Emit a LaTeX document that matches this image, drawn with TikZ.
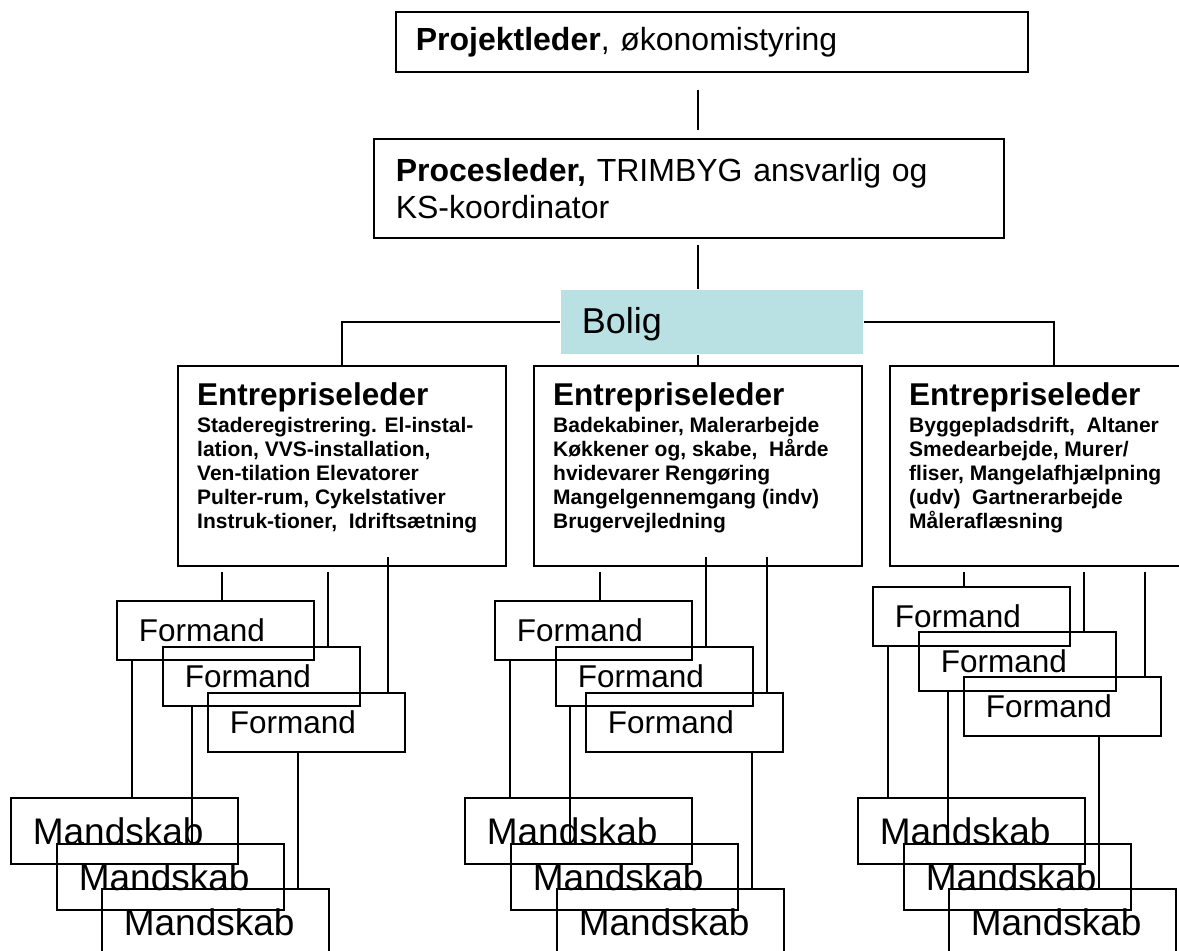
\documentclass[tikz,border=0pt]{standalone}
\usepackage{fontspec}
\setmainfont{Liberation Sans}
\definecolor{boligblue}{RGB}{185,224,227}

\begin{document}
\begin{tikzpicture}[x=1pt, y=-1pt,
    box/.style={draw, line width=1.6pt, rectangle, inner sep=0pt, anchor=north west},
    line/.style={line width=1.4pt},
    formand/.style={box, minimum width=197pt, minimum height=59pt, text width=153pt, inner xsep=22pt, align=left, font=\fontsize{31.5}{36}\selectfont},
    mandskab/.style={box, minimum width=227pt, minimum height=66pt, text width=183pt, inner xsep=22pt, align=left, font=\fontsize{37}{42}\selectfont},
    eltitle/.style={anchor=base west, inner sep=0pt, font=\fontsize{31.5}{36}\selectfont\bfseries},
    eldetail/.style={anchor=north west, inner sep=0pt, align=left, font=\fontsize{21}{24}\selectfont\bfseries}]
\useasboundingbox (0,0) rectangle (1179,951);
\clip (0,0) rectangle (1179,951);

% ledelse
\node[box, minimum width=632pt, minimum height=60pt, text width=592pt, inner xsep=20pt, align=left, font=\fontsize{32}{37}\selectfont] (pl) at (395,11) {\textbf{Projektleder}, økonomistyring};
\node[box, minimum width=630pt, minimum height=99pt, text width=586pt, inner xsep=22pt, align=left, font=\fontsize{32}{37}\selectfont] (pc) at (373,138) {\textbf{Procesleder,} TRIMBYG ansvarlig og\\KS-koordinator};
\node[box, draw=none, fill=boligblue, minimum width=302pt, minimum height=64pt, text width=260pt, inner xsep=21pt, text depth=2pt, align=left, font=\fontsize{36}{41}\selectfont] (bolig) at (560,289) {Bolig};

% entrepriseledere
\node[box, minimum width=328pt, minimum height=200pt] (el1) at (177,365) {};
\node[box, minimum width=328pt, minimum height=200pt] (el2) at (533,365) {};
\node[box, minimum width=328pt, minimum height=200pt] (el3) at (889,365) {};
\foreach \e in {el1,el2,el3}
{
    \node[eltitle] (\e h) at ([shift={(20pt,-40pt)}]\e.north west) {Entrepriseleder};
}
\node[eldetail] (el1d) at ([yshift=-12.5pt]el1h.base west) {Staderegistrering. El-instal-\\lation, VVS-installation,\\Ven-tilation Elevatorer\\Pulter-rum, Cykelstativer\\Instruk-tioner,\ \ Idriftsætning};
\node[eldetail] (el2d) at ([yshift=-12.5pt]el2h.base west) {Badekabiner, Malerarbejde\\Køkkener og, skabe,\ \ Hårde\\hvidevarer Rengøring\\Mangelgennemgang (indv)\\Brugervejledning};
\node[eldetail] (el3d) at ([yshift=-12.5pt]el3h.base west) {Byggepladsdrift,\ \ Altaner\\Smedearbejde, Murer/\\fliser, Mangelafhjælpning\\(udv)\ \ Gartnerarbejde\\Måleraflæsning};

% formænd og mandskab
\foreach \n/\x/\y in {fl1/116/600, fl2/162/646, fl3/207/692, fm1/494/600, fm2/555/646, fm3/585/692, fr1/872/586, fr2/918/631, fr3/963/676}
{
    \node[formand] (\n) at (\x,\y) {Formand};
}
\foreach \n/\x/\y in {ml1/10/797, ml2/56/843, ml3/101/888, mm1/464/797, mm2/510/843, mm3/556/888, mr1/857/797, mr2/903/843, mr3/948/888}
{
    \node[mandskab] (\n) at (\x,\y) {Mandskab};
}

% forbindelser
\draw[line, shorten <=17pt, shorten >=8pt] (pl.south -| el2.north) -- (pc.north -| el2.north);
\draw[line, shorten <=6pt] (pc.south -| el2.north) -- (bolig.north -| el2.north);
\draw[line] (bolig.south -| el2.north) -- (el2.north);
\draw[line] (bolig.west) -| (el1.north);
\draw[line] (bolig.east) -| (el3.north);
\foreach \e/\f/\x/\s in {el1/fl1/222/5pt, el1/fl2/328/5pt, el1/fl3/388/-10pt, el2/fm1/600/5pt, el2/fm2/706/-10pt, el2/fm3/767/-10pt, el3/fr1/964/5pt, el3/fr2/1084/5pt, el3/fr3/1145/5pt}
{
    \draw[line, shorten <=\s] (\e.south -| \x,0) -- (\f.north -| \x,0);
}
\foreach \f/\m/\x in {fl1/ml1/132, fl2/ml2/192, fl3/ml3/298, fm1/mm1/510, fm2/mm2/570, fm3/mm3/752, fr1/mr1/888, fr2/mr2/948, fr3/mr3/1099}
{
    \draw[line] (\f.south -| \x,0) -- (\m.north -| \x,0);
}

\end{tikzpicture}
\end{document}
